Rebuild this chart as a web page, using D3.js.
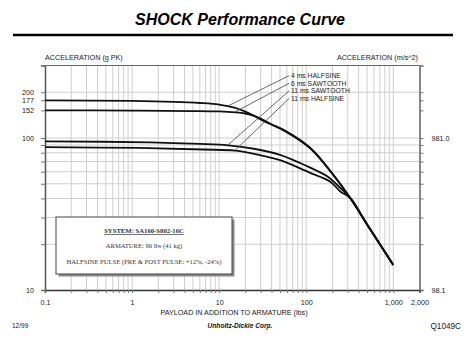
<!DOCTYPE html>
<html><head><meta charset="utf-8">
<script src="https://cdn.jsdelivr.net/npm/d3@7"></script>
<style>body{margin:0;background:#fff}svg{display:block}</style>
</head><body>
<script>
// ---- data ----
const seriesNames = ["4 ms HALFSINE", "6 ms SAWTOOTH", "11 ms SAWTOOTH", "11 ms HALFSINE"];
const payload4msHalf = [0.1, 1, 3, 6, 10, 15, 20, 25, 31, 40, 57, 111, 204, 320, 500, 1000];
const accel4msHalf   = [177, 175.5, 173, 170, 166, 158.5, 149, 140, 131, 122.3, 111, 85.5, 57.2, 40.3, 27, 14.6];
const payload6msSaw  = [0.1, 1, 5, 10, 15.3, 20, 25, 31, 40, 57, 111, 204, 320, 500, 1000];
const accel6msSaw    = [152, 151.5, 150.5, 149.5, 147.5, 145, 140.5, 133, 123.3, 112, 86.3, 57.5, 40.3, 27, 14.6];
const payload11msSaw = [0.1, 1.6, 6, 12.7, 25, 50, 85, 111, 174, 246, 320, 500, 1000];
const accel11msSaw   = [95, 93.7, 91.5, 89.5, 85, 77.5, 68.5, 63.8, 56, 47, 40.3, 27, 14.6];
const payload11msHalf= [0.1, 1.2, 6.5, 15.3, 30, 50, 85, 111, 189, 246, 320, 500, 1000];
const accel11msHalf  = [87, 86, 84, 82.5, 77, 71.6, 63.2, 59, 51.6, 44.5, 40.3, 27, 14.6];
const leaderPayload  = [12.7, 15.3, 12.7, 15.3];
const xTickValues = [0.1, 1, 10, 100, 1000, 2000];
const xTickLabels = ["0.1", "1", "10", "100", "1,000", "2,000"];
const yTickValues = [10, 100, 152, 177, 200];
const yTickLabels = ["10", "100", "152", "177", "200"];
const yRightValues = [10, 100];
const yRightLabels = ["98.1", "981.0"];
const legendLines = ["SYSTEM:  SA160-S802-16C", "ARMATURE: 90 lbs (41 kg)", "HALFSINE PULSE (PRE & POST PULSE: +12%, -24%)"];

const W = 467, H = 342;
const svg = d3.select("body").append("svg").attr("width", W).attr("height", H);
const sans = "'Liberation Sans', Arial, sans-serif";
const serif = "'Liberation Serif', 'Times New Roman', serif";

const x = d3.scaleLog().domain([0.1, 2000]).range([45, 419.5]);
const y = d3.scaleLog().domain([10, 300]).range([290, 65.5]);

// title & rule
svg.append("text").attr("x", 240).attr("y", 25).attr("text-anchor", "middle")
  .attr("font-family", sans).attr("font-size", 16).attr("font-weight", "bold").attr("font-style", "italic")
  .text("SHOCK Performance Curve");
svg.append("line").attr("x1", 13).attr("x2", 453).attr("y1", 35).attr("y2", 35)
  .attr("stroke", "#000").attr("stroke-width", 2.6);

svg.append("text").attr("x", 45).attr("y", 60).attr("font-family", sans).attr("font-size", 7.2).attr("fill", "#222")
  .text("ACCELERATION (g PK)");
svg.append("text").attr("x", 418).attr("y", 60).attr("text-anchor", "end").attr("font-family", sans).attr("font-size", 7.2).attr("fill", "#222")
  .text("ACCELERATION (m/s^2)");

// grid
const xGrid = [];
for (let e = -1; e <= 3; e++) for (let k = 1; k <= 9; k++) { const v = k * Math.pow(10, e); if (v > 0.1 && v < 2000) xGrid.push(v); }
const yGrid = [20, 30, 40, 50, 60, 70, 80, 90, 100, 200];
const g = svg.append("g");
g.selectAll(".vg").data(xGrid).join("line").attr("x1", d => x(d)).attr("x2", d => x(d))
  .attr("y1", y(300)).attr("y2", y(10)).attr("stroke", "#cfcfcf").attr("stroke-width", 1);
g.selectAll(".hg").data(yGrid).join("line").attr("y1", d => y(d)).attr("y2", d => y(d))
  .attr("x1", x(0.1)).attr("x2", x(2000)).attr("stroke", "#cfcfcf").attr("stroke-width", 1);

// axes
const tickFmt = (vals, labels) => d => { const i = vals.indexOf(d); return i >= 0 ? labels[i] : ""; };
const allYticks = Array.from(new Set(yGrid.concat(yTickValues).concat([10])));
const axL = d3.axisLeft(y).tickValues(allYticks).tickFormat(tickFmt(yTickValues, yTickLabels)).tickSize(4).tickPadding(7);
const axR = d3.axisRight(y).tickValues(allYticks).tickFormat(tickFmt(yRightValues, yRightLabels)).tickSize(4).tickPadding(8);
const allXticks = [0.1].concat(xGrid).concat([2000]);
const axB = d3.axisBottom(x).tickValues(allXticks).tickFormat(tickFmt(xTickValues, xTickLabels)).tickSize(3).tickPadding(7);

function styleAxis(sel, col, w) {
  sel.select(".domain").attr("stroke", col).attr("stroke-width", w);
  sel.selectAll(".tick line").attr("stroke", "#777");
  sel.selectAll("text").attr("font-family", sans).attr("font-size", 7.2).attr("fill", "#222");
}
styleAxis(svg.append("g").attr("transform", `translate(${x(0.1)},0)`).call(axL), "#555", 1.5);
styleAxis(svg.append("g").attr("transform", `translate(${x(2000)},0)`).call(axR), "#888", 2);
styleAxis(svg.append("g").attr("transform", `translate(0,${y(10)})`).call(axB), "#333", 1.5);
svg.append("line").attr("x1", x(0.1)).attr("x2", x(2000)).attr("y1", y(300)).attr("y2", y(300))
  .attr("stroke", "#666").attr("stroke-width", 1);

svg.append("text").attr("x", 234).attr("y", 315).attr("text-anchor", "middle").attr("font-family", sans)
  .attr("font-size", 7.2).attr("fill", "#222").text("PAYLOAD IN ADDITION TO ARMATURE (lbs)");
svg.append("text").attr("x", 12).attr("y", 328).attr("font-family", sans).attr("font-size", 6.5).attr("fill", "#222").text("12/99");
svg.append("text").attr("x", 240).attr("y", 328).attr("text-anchor", "middle").attr("font-family", sans)
  .attr("font-size", 6.6).attr("font-weight", "bold").attr("font-style", "italic").attr("fill", "#111").text("Unholtz-Dickie Corp.");
svg.append("text").attr("x", 461).attr("y", 328.5).attr("text-anchor", "end").attr("font-family", sans)
  .attr("font-size", 8.2).attr("fill", "#222").text("Q1049C");

// curves
const series = [
  d3.zip(payload4msHalf, accel4msHalf),
  d3.zip(payload6msSaw, accel6msSaw),
  d3.zip(payload11msSaw, accel11msSaw),
  d3.zip(payload11msHalf, accel11msHalf)
];
const line = d3.line().x(d => x(d[0])).y(d => y(d[1])).curve(d3.curveCatmullRom.alpha(0.5));
svg.selectAll(".curve").data(series).join("path").attr("d", line)
  .attr("fill", "none").attr("stroke", "#111").attr("stroke-width", 1.8);

// value on a series at given payload (log-log interpolation)
function valueAt(s, p) {
  for (let i = 0; i < s.length - 1; i++) {
    if (p >= s[i][0] && p <= s[i + 1][0]) {
      const t = (Math.log(p) - Math.log(s[i][0])) / (Math.log(s[i + 1][0]) - Math.log(s[i][0]));
      return Math.exp(Math.log(s[i][1]) + t * (Math.log(s[i + 1][1]) - Math.log(s[i][1])));
    }
  }
  return s[s.length - 1][1];
}

// labels & leaders
const labelX = 291, labelY0 = 75.7, labelDy = 7.6;
seriesNames.forEach((name, i) => {
  const ly = labelY0 + i * labelDy;
  const p = leaderPayload[i];
  svg.append("line").attr("x1", labelX - 2).attr("y1", ly).attr("x2", x(p)).attr("y2", y(valueAt(series[i], p)) - 0.5)
    .attr("stroke", "#444").attr("stroke-width", 0.8);
  svg.append("text").attr("x", labelX).attr("y", ly + 2.5).attr("font-family", sans).attr("font-size", 6.8)
    .attr("fill", "#222").text(name);
});

// legend box
const bx = 56, by = 217, bw = 176, bh = 57;
svg.append("rect").attr("x", bx + 2.5).attr("y", by + 2.5).attr("width", bw).attr("height", bh).attr("fill", "#8a8a8a");
svg.append("rect").attr("x", bx).attr("y", by).attr("width", bw).attr("height", bh).attr("fill", "#fff")
  .attr("stroke", "#444").attr("stroke-width", 1);
const lt = [233, 247.5, 264];
legendLines.forEach((t, i) => {
  const tx = svg.append("text").attr("x", bx + bw / 2).attr("y", lt[i]).attr("text-anchor", "middle")
    .attr("font-family", serif).attr("font-size", i === 0 ? 6.7 : 6.6).attr("fill", "#333").text(t);
  if (i === 0) tx.attr("font-weight", "bold").attr("text-decoration", "underline");
});
</script>
</body></html>
